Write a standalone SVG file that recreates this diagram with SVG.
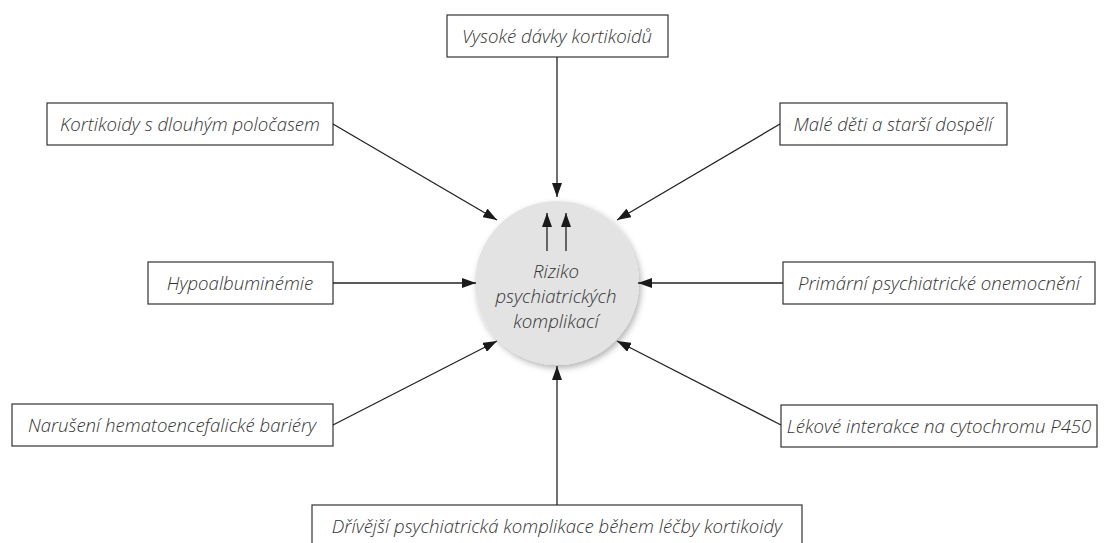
<svg xmlns="http://www.w3.org/2000/svg" width="1108" height="543" viewBox="0 0 1108 543">
<style>
.box{fill:#fff;stroke:#333;stroke-width:1.2}
.t{font-family:"Open Sans","Liberation Sans",sans-serif;font-style:italic;font-weight:300;font-size:18.6px;fill:#333;text-anchor:middle}
.c{stroke:#222;stroke-width:1.3;fill:none;marker-end:url(#ah)}
</style>
<defs>
<marker id="ah" viewBox="0 0 14 10" refX="14" refY="5" markerWidth="14" markerHeight="10" markerUnits="userSpaceOnUse" orient="auto">
<path d="M0,0 L14,5 L0,10 Z" fill="#1a1a1a"/>
</marker>
<filter id="sh" x="-20%" y="-20%" width="140%" height="140%">
<feDropShadow dx="2" dy="3" stdDeviation="3" flood-color="#000" flood-opacity="0.3"/>
</filter>
</defs>
<g id="center">
<circle cx="557" cy="283" r="82" fill="#e3e3e3" filter="url(#sh)"/>
<line x1="547" y1="251" x2="547" y2="213" class="c"/>
<line x1="566" y1="251" x2="566" y2="213" class="c"/>
<text class="t" font-size="21" x="556" y="278">Riziko</text>
<text class="t" font-size="21" x="556" y="303">psychiatrických</text>
<text class="t" font-size="21" x="556" y="328">komplikací</text>
</g>
<g id="n-top"><rect class="box" x="447" y="15" width="221" height="42"/><text class="t" x="557" y="43">Vysoké dávky kortikoidů</text></g>
<g id="n-tl"><rect class="box" x="47" y="103" width="286" height="42"/><text class="t" x="190" y="131">Kortikoidy s dlouhým poločasem</text></g>
<g id="n-tr"><rect class="box" x="780" y="103" width="227" height="42"/><text class="t" x="893" y="131">Malé děti a starší dospělí</text></g>
<g id="n-l"><rect class="box" x="148" y="262" width="185" height="42"/><text class="t" x="240" y="290">Hypoalbuminémie</text></g>
<g id="n-r"><rect class="box" x="783" y="262" width="312" height="42"/><text class="t" x="939" y="290">Primární psychiatrické onemocnění</text></g>
<g id="n-bl"><rect class="box" x="12" y="404" width="321" height="42"/><text class="t" x="172" y="432">Narušení hematoencefalické bariéry</text></g>
<g id="n-br"><rect class="box" x="781" y="405" width="316" height="42"/><text class="t" x="939" y="433">Lékové interakce na cytochromu P450</text></g>
<g id="n-bottom"><rect class="box" x="312" y="505" width="490" height="42"/><text class="t" x="557" y="533">Dřívější psychiatrická komplikace během léčby kortikoidy</text></g>
<g id="connectors">
<line class="c" x1="557" y1="57" x2="557" y2="197"/>
<line class="c" x1="333" y1="124" x2="497" y2="220"/>
<line class="c" x1="780" y1="124" x2="617" y2="220"/>
<line class="c" x1="333" y1="283" x2="476" y2="283"/>
<line class="c" x1="783" y1="283" x2="638" y2="283"/>
<line class="c" x1="333" y1="425" x2="497" y2="341"/>
<line class="c" x1="781" y1="425" x2="617" y2="341"/>
<line class="c" x1="557" y1="505" x2="557" y2="366"/>
</g>
</svg>
